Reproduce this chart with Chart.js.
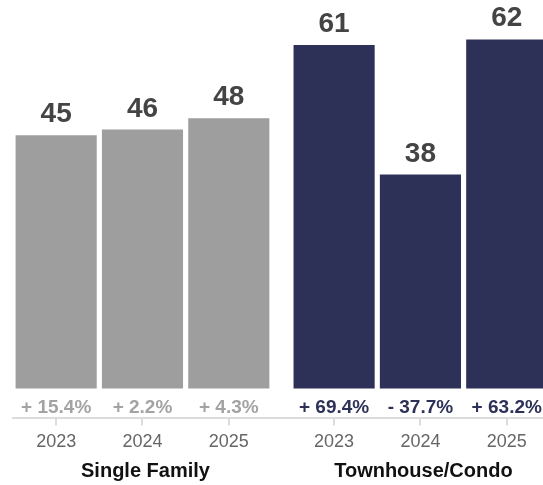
<!DOCTYPE html>
<html lang="en">
<head>
    <meta charset="UTF-8">
    <title>Sales by Property Type</title>
    <script src="https://cdn.jsdelivr.net/npm/chart.js"></script>
    <style>
        body { margin: 0; background: #fff; }
        #wrap { width: 543px; height: 485px; }
    </style>
</head>
<body>
    <div id="wrap"><canvas id="chart1"></canvas></div>

    <script>
        var years = ['2023', '2024', '2025'];
        var groups = ['Single Family', 'Townhouse/Condo'];
        var singleFamily = [45, 46, 48];
        var townhouse = [61, 38, 62];
        var singleFamilyChange = ['+ 15.4%', '+ 2.2%', '+ 4.3%'];
        var townhouseChange = ['+ 69.4%', '- 37.7%', '+ 63.2%'];

        var groupGap = 0.22;   // extra space between the two groups, in bar slots
        var font = '"Liberation Sans", Arial, Helvetica, sans-serif';

        function slot(g, i) {
            return g * (years.length + groupGap) + i;
        }

        function toPoints(values, g) {
            return values.map(function (v, i) { return { x: slot(g, i), y: v }; });
        }

        var changes = [singleFamilyChange, townhouseChange];
        var changeColors = ['#a3a3a3', '#2d3158'];

        var labelsPlugin = {
            id: 'labels',
            afterDatasetsDraw: function (chart) {
                var ctx = chart.ctx;
                var zero = chart.scales.y.getPixelForValue(0);
                ctx.save();
                ctx.textAlign = 'center';
                ctx.textBaseline = 'alphabetic';
                chart.data.datasets.forEach(function (ds, g) {
                    var meta = chart.getDatasetMeta(g);
                    var sum = 0;
                    meta.data.forEach(function (bar, i) {
                        ctx.fillStyle = '#444444';
                        ctx.font = 'bold 28px ' + font;
                        ctx.fillText(ds.data[i].y, bar.x, bar.y - 13);

                        ctx.fillStyle = changeColors[g];
                        ctx.font = 'bold 19px ' + font;
                        ctx.fillText(changes[g][i], bar.x, zero + 24);
                        sum += bar.x;
                    });
                    ctx.fillStyle = '#111111';
                    ctx.font = 'bold 20px ' + font;
                    ctx.fillText(groups[g], sum / meta.data.length + 3, 477);
                });
                ctx.restore();
            }
        };

        var ctx = document.getElementById('chart1').getContext('2d');
        var chart = new Chart(ctx, {
            type: 'bar',
            data: {
                datasets: [{
                    label: groups[0],
                    data: toPoints(singleFamily, 0),
                    backgroundColor: '#9e9e9e'
                }, {
                    label: groups[1],
                    data: toPoints(townhouse, 1),
                    backgroundColor: '#2d3158'
                }]
            },
            options: {
                responsive: true,
                maintainAspectRatio: false,
                animation: false,
                layout: { padding: { left: 13, right: 0, top: 0, bottom: 26 } },
                datasets: {
                    bar: { grouped: false, barPercentage: 0.94, categoryPercentage: 1 }
                },
                plugins: {
                    legend: { display: false },
                    tooltip: { enabled: false }
                },
                scales: {
                    x: {
                        type: 'linear',
                        offset: false,
                        min: -0.5,
                        max: slot(1, 2) + 0.42,
                        afterBuildTicks: function (scale) {
                            var t = [];
                            groups.forEach(function (g, gi) {
                                years.forEach(function (y, i) { t.push({ value: slot(gi, i) }); });
                            });
                            scale.ticks = t;
                        },
                        border: { color: '#dcdcdc', width: 2 },
                        grid: {
                            offset: false,
                            drawOnChartArea: false,
                            color: '#dcdcdc',
                            lineWidth: 2,
                            tickLength: 7
                        },
                        ticks: {
                            autoSkip: false,
                            maxRotation: 0,
                            color: '#666666',
                            padding: 6,
                            font: { family: font, size: 18 },
                            callback: function (value) {
                                var idx = value < years.length ? Math.round(value) : Math.round(value - years.length - groupGap);
                                return years[idx];
                            }
                        }
                    },
                    y: {
                        display: false,
                        min: -5.3,
                        max: 69
                    }
                }
            },
            plugins: [labelsPlugin]
        });
    </script>
</body>
</html>
